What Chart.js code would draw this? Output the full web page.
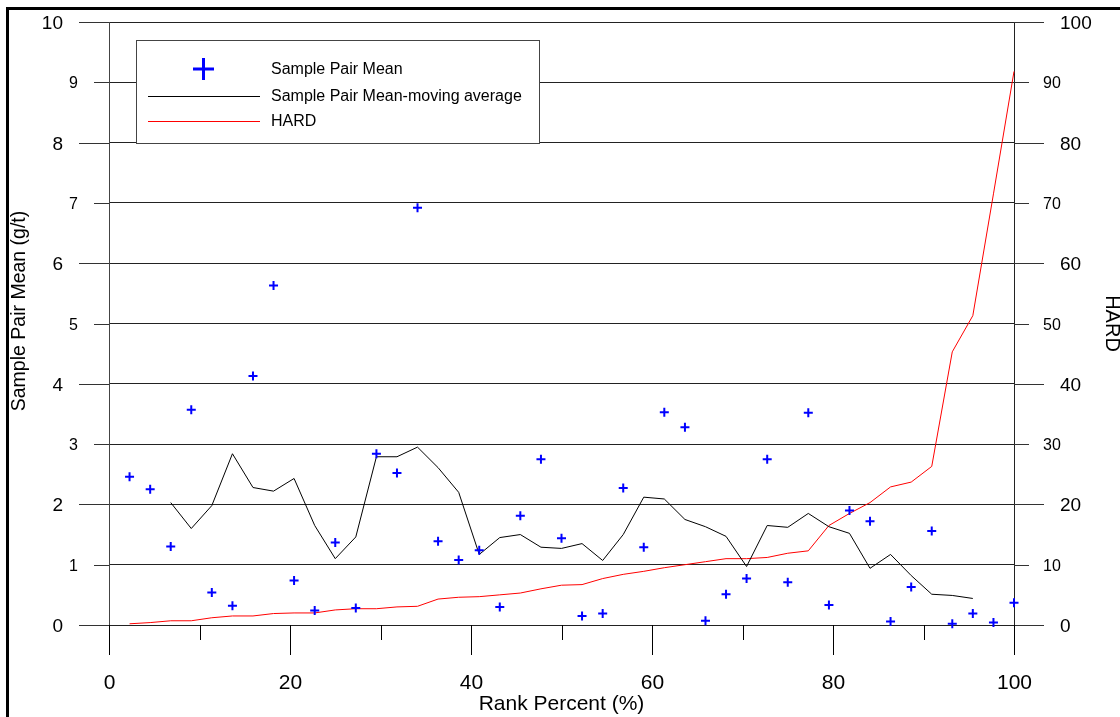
<!DOCTYPE html>
<html>
<head>
<meta charset="utf-8">
<title>Sample Pair Mean vs Rank Percent</title>
<script src="https://cdn.jsdelivr.net/npm/chart.js@4/dist/chart.umd.min.js"></script>
<style>
  html, body { margin: 0; padding: 0; background: #fff; overflow: hidden; }
  canvas { display: block; }
</style>
</head>
<body>
<canvas id="chart" width="1120" height="717"></canvas>
<script>
// rank percent of each sample pair (x)
const rankPct = [
  2.27, 4.55, 6.82, 9.09, 11.36, 13.64, 15.91, 18.18, 20.45, 22.73, 25.00,
  27.27, 29.55, 31.82, 34.09, 36.36, 38.64, 40.91, 43.18, 45.45, 47.73, 50.00,
  52.27, 54.55, 56.82, 59.09, 61.36, 63.64, 65.91, 68.18, 70.45, 72.73, 75.00,
  77.27, 79.55, 81.82, 84.09, 86.36, 88.64, 90.91, 93.18, 95.45, 97.73, 100
];
// Sample Pair Mean (g/t)
const pairMean = [
  2.46, 2.25, 1.30, 3.57, 0.54, 0.32, 4.13, 5.63, 0.74, 0.24, 1.37,
  0.28, 2.84, 2.52, 6.92, 1.39, 1.08, 1.24, 0.30, 1.81, 2.75, 1.44,
  0.15, 0.19, 2.27, 1.29, 3.53, 3.28, 0.07, 0.51, 0.77, 2.75, 0.71,
  3.52, 0.33, 1.90, 1.72, 0.06, 0.63, 1.56, 0.02, 0.19, 0.04, 0.37
];
// moving average (g/t), no value at the ends
const movingAvg = [
  null, null, 2.03, 1.60, 1.98, 2.84, 2.28, 2.22, 2.43, 1.65, 1.10,
  1.46, 2.79, 2.79, 2.95, 2.61, 2.20, 1.17, 1.45, 1.50, 1.29, 1.27,
  1.35, 1.07, 1.50, 2.12, 2.09, 1.75, 1.63, 1.47, 0.97, 1.65, 1.62,
  1.85, 1.63, 1.52, 0.94, 1.17, 0.82, 0.51, 0.49, 0.44, null, null
];
// HARD (right axis)
const hard = [
  0.2, 0.4, 0.7, 0.7, 1.2, 1.5, 1.5, 1.9, 2.0, 2.0, 2.5,
  2.7, 2.7, 3.0, 3.1, 4.3, 4.6, 4.7, 5.0, 5.3, 6.0, 6.6,
  6.7, 7.7, 8.4, 8.9, 9.5, 10.0, 10.5, 11.0, 11.0, 11.2, 11.9,
  12.3, 16.5, 18.5, 20.3, 22.9, 23.7, 26.3, 45.3, 51.3, 71.5, 91.8
];

const FONT = "'Liberation Sans', Arial, sans-serif";
Chart.defaults.font.family = FONT;
Chart.defaults.color = '#000';

const pts = (ys) => rankPct.map((x, i) => ({ x, y: ys[i] }));

function line(ctx, x1, y1, x2, y2) {
  ctx.beginPath();
  ctx.moveTo(x1, y1);
  ctx.lineTo(x2, y2);
  ctx.stroke();
}

// tick marks, tick labels, left title, legend box and outer frame
const decor = {
  id: 'decor',
  afterDraw(chart) {
    const { ctx, chartArea: a, scales } = chart;
    const { x, y, y2 } = scales;
    ctx.save();
    ctx.strokeStyle = '#000';
    ctx.fillStyle = '#000';
    ctx.lineWidth = 1;

    // left axis
    ctx.textBaseline = 'middle';
    ctx.textAlign = 'right';
    y.ticks.forEach(t => {
      const py = Math.round(y.getPixelForValue(t.value)) + 0.5;
      const major = t.value % 2 === 0;
      const len = major ? 30 : 15;
      ctx.strokeStyle = '#333';
      line(ctx, a.left - len, py, a.left, py);
      ctx.font = (major ? 19 : 16) + 'px ' + FONT;
      ctx.fillText(String(t.value), a.left - len - 16, py + 1);
    });

    // right axis
    ctx.textAlign = 'left';
    y2.ticks.forEach(t => {
      const py = Math.round(y2.getPixelForValue(t.value)) + 0.5;
      const major = t.value % 20 === 0;
      const len = major ? 30 : 15;
      ctx.strokeStyle = '#333';
      line(ctx, a.right, py, a.right + len, py);
      ctx.font = (major ? 19 : 16) + 'px ' + FONT;
      ctx.fillText(String(t.value), a.right + len + (major ? 16 : 14), py + 1);
    });

    // bottom axis
    ctx.textAlign = 'center';
    ctx.font = '21px ' + FONT;
    x.ticks.forEach(t => {
      const px = Math.round(x.getPixelForValue(t.value)) + 0.5;
      const major = t.value % 20 === 0;
      ctx.strokeStyle = '#000';
      line(ctx, px, a.bottom, px, a.bottom + (major ? 30 : 15));
      if (major) ctx.fillText(String(t.value), px, a.bottom + 58);
    });

    // left axis title
    ctx.save();
    ctx.translate(20, 311);
    ctx.rotate(-Math.PI / 2);
    ctx.font = '19.5px ' + FONT;
    ctx.fillText('Sample Pair Mean (g/t)', 0, 0);
    ctx.restore();

    // legend
    const ds = chart.data.datasets;
    ctx.fillStyle = '#fff';
    ctx.fillRect(136, 40, 403, 103);
    ctx.strokeStyle = '#444';
    ctx.strokeRect(136.5, 40.5, 403, 103);
    ctx.strokeStyle = ds[0].borderColor;
    ctx.lineWidth = 3;
    line(ctx, 193, 69, 214, 69);
    line(ctx, 203.5, 58, 203.5, 80);
    ctx.lineWidth = 1;
    ctx.strokeStyle = ds[1].borderColor;
    line(ctx, 148, 96.5, 260, 96.5);
    ctx.strokeStyle = ds[2].borderColor;
    line(ctx, 148, 121.5, 260, 121.5);
    ctx.fillStyle = '#000';
    ctx.textAlign = 'left';
    ctx.font = '16px ' + FONT;
    ctx.fillText(ds[0].label, 271, 70);
    ctx.fillText(ds[1].label, 271, 97);
    ctx.fillText(ds[2].label, 271, 122);

    // outer frame (cut by the picture edge on the right and bottom)
    ctx.strokeStyle = '#000';
    ctx.lineWidth = 3;
    ctx.strokeRect(7.5, 8.5, 1400, 1000);
    ctx.restore();
  }
};

const chart = new Chart(document.getElementById('chart'), {
  type: 'scatter',
  data: {
    datasets: [
      {
        label: 'Sample Pair Mean',
        data: pts(pairMean),
        yAxisID: 'y',
        pointStyle: 'cross',
        pointRadius: 4.5,
        pointBorderWidth: 2,
        borderColor: '#0000ff',
        backgroundColor: '#0000ff',
        showLine: false,
        clip: false,
        order: 1
      },
      {
        label: 'Sample Pair Mean-moving average',
        data: pts(movingAvg),
        yAxisID: 'y',
        showLine: true,
        borderColor: '#000',
        borderWidth: 1,
        pointRadius: 0,
        spanGaps: false,
        clip: false,
        order: 2
      },
      {
        label: 'HARD',
        data: pts(hard),
        yAxisID: 'y2',
        showLine: true,
        borderColor: '#ff0000',
        borderWidth: 1,
        pointRadius: 0,
        clip: false,
        order: 3
      }
    ]
  },
  options: {
    responsive: false,
    animation: false,
    devicePixelRatio: 1,
    layout: { padding: { top: 22, left: 0, right: 0, bottom: 0 } },
    plugins: {
      legend: { display: false },
      tooltip: { enabled: false }
    },
    scales: {
      x: {
        type: 'linear',
        min: 0, max: 100,
        ticks: { stepSize: 10, display: false },
        grid: { display: false },
        border: { display: false },
        title: {
          display: true,
          text: 'Rank Percent (%)',
          font: { size: 21 },
          padding: { top: -1, bottom: 0 }
        },
        afterFit: (s) => { s.height = 92; }
      },
      y: {
        position: 'left',
        min: 0, max: 10,
        ticks: { stepSize: 1, display: false },
        grid: { color: '#222', drawTicks: false },
        border: { display: true, color: '#444' },
        afterFit: (s) => { s.width = 109; }
      },
      y2: {
        position: 'right',
        min: 0, max: 100,
        ticks: { stepSize: 10, display: false },
        grid: { drawOnChartArea: false, drawTicks: false },
        border: { display: true, color: '#222' },
        title: {
          display: true,
          text: 'HARD',
          font: { size: 20 },
          padding: { top: -4, bottom: 0 }
        },
        afterFit: (s) => { s.width = 106; }
      }
    }
  },
  plugins: [decor]
});
</script>
</body>
</html>
